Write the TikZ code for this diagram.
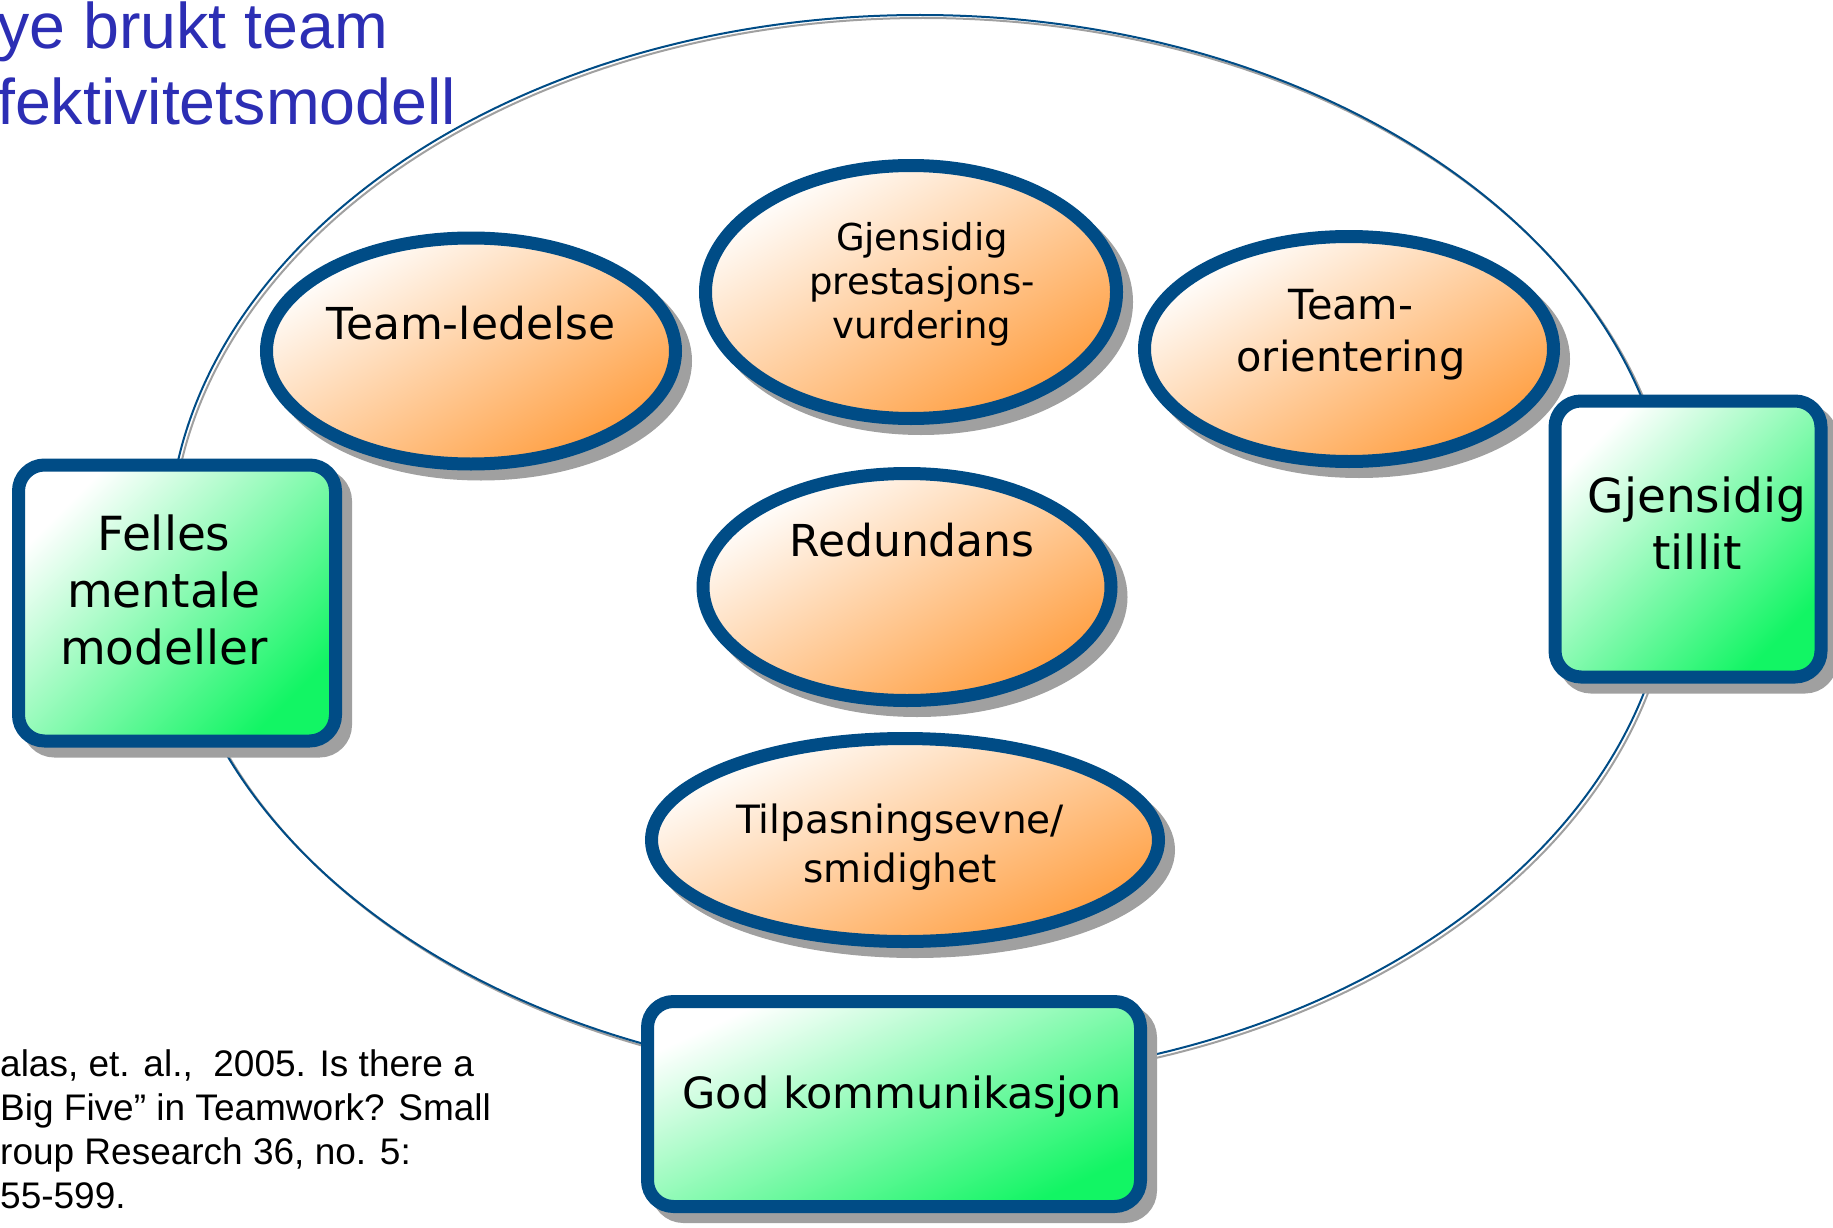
\documentclass[tikz,border=0pt]{standalone}
\usepackage{fontspec}
\newfontfamily\verdanalike{DejaVu Sans}
\newfontfamily\arialike{Liberation Sans}
\usepackage{tikz}
\usetikzlibrary{shapes.geometric,shadows}
\definecolor{edgeblue}{RGB}{0,76,134}
\definecolor{ovalorange}{RGB}{255,158,64}
\definecolor{cardgreen}{RGB}{18,245,100}
\definecolor{shadowgray}{RGB}{160,160,160}
\definecolor{titleblue}{RGB}{44,46,180}

\begin{document}
\begin{tikzpicture}[x=1pt,y=-1pt,
  oval/.style={ellipse, draw=edgeblue, line width=13pt, inner sep=0pt,
    top color=white, bottom color=ovalorange, shading angle=30,
    drop shadow={shadow xshift=10pt, shadow yshift=-10pt, fill=shadowgray, draw=shadowgray, line width=13pt, opacity=1}},
  card/.style={rectangle, rounded corners=26pt, draw=edgeblue, line width=13pt, inner sep=0pt,
    top color=white, bottom color=cardgreen, shading angle=45,
    drop shadow={shadow xshift=10pt, shadow yshift=-10pt, fill=shadowgray, draw=shadowgray, line width=13pt, opacity=1}},
  lbl/.style={align=center, inner sep=0pt}]
\useasboundingbox (0,0) rectangle (1833,1228);
\draw[shadowgray, line width=2pt] (923,551) ellipse [x radius=752, y radius=533];
\draw[edgeblue, line width=2pt] (920,548) ellipse [x radius=752, y radius=533];
\node[font=\arialike\fontsize{64.5}{76}\selectfont, text=titleblue, align=left, inner sep=0pt, anchor=north west] (title) at (-3,2) {ye brukt team\\fektivitetsmodell};
\node[font=\arialike\fontsize{37}{44}\selectfont, align=left, inner sep=0pt, anchor=north west] (source) at (0,1049) {alas, et. al.,~ 2005. Is there a\\Big Five” in Teamwork? Small\\roup Research 36, no. 5:\\55-599.};
\node[oval, minimum width=409pt, minimum height=226pt] (ledelse) at (471,351) {};
\node[oval, minimum width=411pt, minimum height=253pt] (vurdering) at (911,292) {};
\node[oval, minimum width=409pt, minimum height=225pt] (orientering) at (1349,349) {};
\node[oval, minimum width=408pt, minimum height=227pt] (redundans) at (907,587) {};
\node[oval, minimum width=507pt, minimum height=203pt, shading angle=25] (smidighet) at (905,840) {};
\node[card, minimum width=317pt, minimum height=276pt] (felles) at (177,603) {};
\node[card, minimum width=266pt, minimum height=276pt] (tillit) at (1688,539) {};
\node[card, minimum width=493pt, minimum height=205pt, shading angle=25] (kommunikasjon) at (894,1104) {};
\node[lbl, font=\verdanalike\fontsize{44}{52}\selectfont] (ledelse-t) at (471,323) {Team-ledelse};
\node[lbl, font=\verdanalike\fontsize{37}{44}\selectfont] (vurdering-t) at (922,284) {Gjensidig\\prestasjons-\\vurdering};
\node[lbl, font=\verdanalike\fontsize{41.5}{52}\selectfont] (orientering-t) at (1351,335) {Team-\\orientering};
\node[lbl, font=\verdanalike\fontsize{44}{52}\selectfont] (redundans-t) at (912,540) {Redundans};
\node[lbl, font=\verdanalike\fontsize{39}{49}\selectfont] (smidighet-t) at (900,847) {Tilpasningsevne/\\smidighet};
\node[lbl, font=\verdanalike\fontsize{47}{57}\selectfont] (felles-t) at (164,590) {Felles\\mentale\\modeller};
\node[lbl, font=\verdanalike\fontsize{47}{57}\selectfont] (tillit-t) at (1697,523) {Gjensidig\\tillit};
\node[lbl, font=\verdanalike\fontsize{43}{52}\selectfont] (kommunikasjon-t) at (902,1097) {God kommunikasjon};
\end{tikzpicture}
\end{document}
